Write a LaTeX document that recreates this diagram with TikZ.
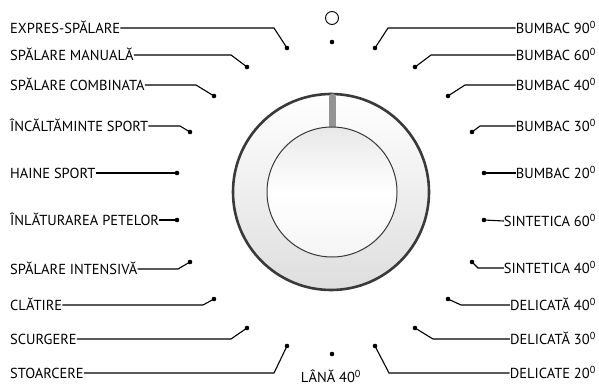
\documentclass[tikz,border=0pt]{standalone}
\usepackage{fontspec}
\setmainfont{PT Sans}
\begin{document}
\begin{tikzpicture}[x=1pt,y=-1pt,
  lab/.style={inner sep=0pt, text height=10.5pt, text depth=0pt, font=\fontsize{14.5}{16}\selectfont},
  lablft/.style={lab, anchor=west},
  labrgt/.style={lab, anchor=east},
  dotn/.style={circle, fill=black, inner sep=0pt, minimum size=4.6pt},
  conn/.style={line width=1.1pt, black},
]
\newcommand\degz{\textsuperscript{0}}
\useasboundingbox (0,0) rectangle (599,387);
% dial
\definecolor{ringc}{HTML}{3A3A3A}
\node[circle, minimum size=196pt, inner sep=0pt, top color=white, bottom color=black!13, draw=ringc, line width=2.6pt] (outer) at (331,192) {};
\draw[line width=7pt, line cap=round, black!42] (332,97) -- (332,132);
\node[circle, minimum size=130pt, inner sep=0pt, top color=black!9, bottom color=black!4, middle color=white, draw=ringc, line width=1pt] (inner) at (332,192) {};
% top markers
\node[circle, draw=black, line width=0.9pt, minimum size=13pt, inner sep=0pt] (ring) at (332,18) {};
\node[dotn] (dtop) at (332,42) {};
\node[dotn] (dbot) at (332,354) {};
\node[lab, anchor=center] (lana) at (331,377) {LÂNĂ 40\degz};
% left labels
\node[lablft] (l1) at (10,28) {EXPRES-SPĂLARE};
\node[lablft] (l2) at (10,55) {SPĂLARE MANUALĂ};
\node[lablft] (l3) at (10,85) {SPĂLARE COMBINATA};
\node[lablft] (l4) at (10,126) {ÎNCĂLTĂMINTE SPORT};
\node[lablft] (l5) at (10,173) {HAINE SPORT};
\node[lablft] (l6) at (10,220) {ÎNLĂTURAREA PETELOR};
\node[lablft] (l7) at (10,269) {SPĂLARE INTENSIVĂ};
\node[lablft] (l8) at (10,305) {CLĂTIRE};
\node[lablft] (l9) at (10,339) {SCURGERE};
\node[lablft] (l10) at (10,373) {STOARCERE};
\node[dotn] (dl1) at (287,48) {};
\node[dotn] (dl2) at (247,67) {};
\node[dotn] (dl3) at (214,96) {};
\node[dotn] (dl4) at (190,132) {};
\node[dotn] (dl5) at (177,173) {};
\node[dotn] (dl6) at (177,220) {};
\node[dotn] (dl7) at (190,262) {};
\node[dotn] (dl8) at (214,299) {};
\node[dotn] (dl9) at (247,328) {};
\node[dotn] (dl10) at (287,346) {};
\coordinate (cl1) at (274,28);
\coordinate (cl2) at (231,55);
\coordinate (cl3) at (196,85);
\coordinate (cl4) at (180,126);
\coordinate (cl7) at (178,269);
\coordinate (cl8) at (203,305);
\coordinate (cl9) at (231,339);
\coordinate (cl10) at (274,373);
\draw[conn] (l1.east) -- (cl1) -- (dl1.center);
\draw[conn] (l2.east) -- (cl2) -- (dl2.center);
\draw[conn] (l3.east) -- (cl3) -- (dl3.center);
\draw[conn] (l4.east) -- (cl4) -- (dl4.center);
\draw[conn] (l5.east) -- (dl5.center);
\draw[conn] (l6.east) -- (dl6.center);
\draw[conn] (l7.east) -- (cl7) -- (dl7.center);
\draw[conn] (l8.east) -- (cl8) -- (dl8.center);
\draw[conn] (l9.east) -- (cl9) -- (dl9.center);
\draw[conn] (l10.east) -- (cl10) -- (dl10.center);
% right labels
\node[labrgt] (r1) at (596,28) {BUMBAC 90\degz};
\node[labrgt] (r2) at (596,55) {BUMBAC 60\degz};
\node[labrgt] (r3) at (596,85) {BUMBAC 40\degz};
\node[labrgt] (r4) at (596,126) {BUMBAC 30\degz};
\node[labrgt] (r5) at (596,173) {BUMBAC 20\degz};
\node[labrgt] (r6) at (596,221) {SINTETICA 60\degz};
\node[labrgt] (r7) at (596,268) {SINTETICA 40\degz};
\node[labrgt] (r8) at (596,305) {DELICATĂ 40\degz};
\node[labrgt] (r9) at (596,339) {DELICATĂ 30\degz};
\node[labrgt] (r10) at (596,373) {DELICATE 20\degz};
\node[dotn] (dr1) at (375,48) {};
\node[dotn] (dr2) at (415,67) {};
\node[dotn] (dr3) at (448,96) {};
\node[dotn] (dr4) at (472,132) {};
\node[dotn] (dr5) at (484,173) {};
\node[dotn] (dr6) at (484,220) {};
\node[dotn] (dr7) at (472,262) {};
\node[dotn] (dr8) at (448,299) {};
\node[dotn] (dr9) at (415,328) {};
\node[dotn] (dr10) at (375,346) {};
\coordinate (cr1) at (388,28);
\coordinate (cr2) at (431,55);
\coordinate (cr3) at (465,85);
\coordinate (cr4) at (480,126);
\coordinate (cr7) at (478,268);
\coordinate (cr8) at (461,305);
\coordinate (cr9) at (433,339);
\coordinate (cr10) at (389,373);
\draw[conn] (r1.west) -- (cr1) -- (dr1.center);
\draw[conn] (r2.west) -- (cr2) -- (dr2.center);
\draw[conn] (r3.west) -- (cr3) -- (dr3.center);
\draw[conn] (r4.west) -- (cr4) -- (dr4.center);
\draw[conn] (r5.west) -- (dr5.center);
\draw[conn] (r6.west) -- (dr6.center);
\draw[conn] (r7.west) -- (cr7) -- (dr7.center);
\draw[conn] (r8.west) -- (cr8) -- (dr8.center);
\draw[conn] (r9.west) -- (cr9) -- (dr9.center);
\draw[conn] (r10.west) -- (cr10) -- (dr10.center);
\end{tikzpicture}
\end{document}
